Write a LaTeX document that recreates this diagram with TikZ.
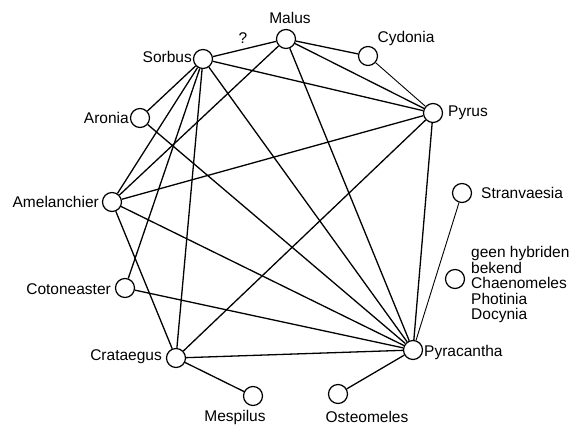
\documentclass[tikz,border=0pt]{standalone}
\usepackage{fontspec}
\setmainfont{Liberation Sans}
\begin{document}
\begin{tikzpicture}[x=1pt,y=-1pt,
  taxon/.style={circle,draw,line width=1.2pt,minimum size=19pt,inner sep=0pt,fill=white},
  lbl/.style={inner sep=0pt,font=\fontsize{15.5}{15.6}\selectfont},
  edge/.style={line width=1.3pt},
  thinedge/.style={line width=0.9pt}]
\useasboundingbox (0,0) rectangle (575,427);
% circles
\node[taxon] (malus) at (286,39) {};
\node[taxon] (sorbus) at (203,59) {};
\node[taxon] (cydonia) at (368,56) {};
\node[taxon] (pyrus) at (433,113) {};
\node[taxon] (aronia) at (140,118) {};
\node[taxon] (amel) at (112,202) {};
\node[taxon] (stran) at (462,193) {};
\node[taxon] (none) at (455,279) {};
\node[taxon] (coton) at (125,288) {};
\node[taxon] (crat) at (176,358) {};
\node[taxon] (pyrac) at (413,350) {};
\node[taxon] (mesp) at (253,396) {};
\node[taxon] (osteo) at (338,394) {};
% labels
\node[lbl] (lmalus) at (290,18) {Malus};
\node[lbl,anchor=east] (lsorbus) at (192,57) {Sorbus};
\node[lbl] (lq) at (243,38) {?};
\node[lbl] (lcyd) at (406,38) {Cydonia};
\node[lbl,anchor=west] (lpyrus) at (448,113) {Pyrus};
\node[lbl,anchor=east] (laronia) at (129,118) {Aronia};
\node[lbl,anchor=east] (lamel) at (99,202) {Amelanchier};
\node[lbl,anchor=west] (lstran) at (481,193) {Stranvaesia};
\node[lbl,anchor=north west,align=left] (lnone) at (471,246) {geen hybriden\\bekend\\Chaenomeles\\Photinia\\Docynia};
\node[lbl,anchor=east] (lcoton) at (111,289) {Cotoneaster};
\node[lbl,anchor=east] (lcrat) at (162,357) {Crataegus};
\node[lbl,anchor=west] (lpyrac) at (424,352) {Pyracantha};
\node[lbl] (lmesp) at (235,417) {Mespilus};
\node[lbl] (losteo) at (367,417) {Osteomeles};
% edges
\draw[edge] (sorbus) -- (malus);
\draw[edge] (sorbus) -- (pyrus);
\draw[edge] (sorbus) -- (pyrac);
\draw[edge] (sorbus) -- (aronia);
\draw[edge] (sorbus) -- (amel);
\draw[edge] (sorbus) -- (coton);
\draw[edge] (sorbus) -- (crat);
\draw[edge] (malus) -- (cydonia);
\draw[edge] (malus) -- (pyrus);
\draw[edge] (malus) -- (pyrac);
\draw[edge] (malus) -- (amel);
\draw[thinedge] (cydonia) -- (pyrus);
\draw[edge] (pyrus) -- (amel);
\draw[edge] (pyrus) -- (crat);
\draw[edge] (pyrus) -- (pyrac);
\draw[edge] (aronia) -- (pyrac);
\draw[edge] (amel) -- (pyrac);
\draw[edge] (amel) -- (crat);
\draw[edge] (coton) -- (pyrac);
\draw[edge] (crat) -- (pyrac);
\draw[edge] (crat) -- (mesp);
\draw[thinedge] (pyrac) -- (stran);
\draw[edge] (pyrac) -- (osteo);
\end{tikzpicture}
\end{document}
